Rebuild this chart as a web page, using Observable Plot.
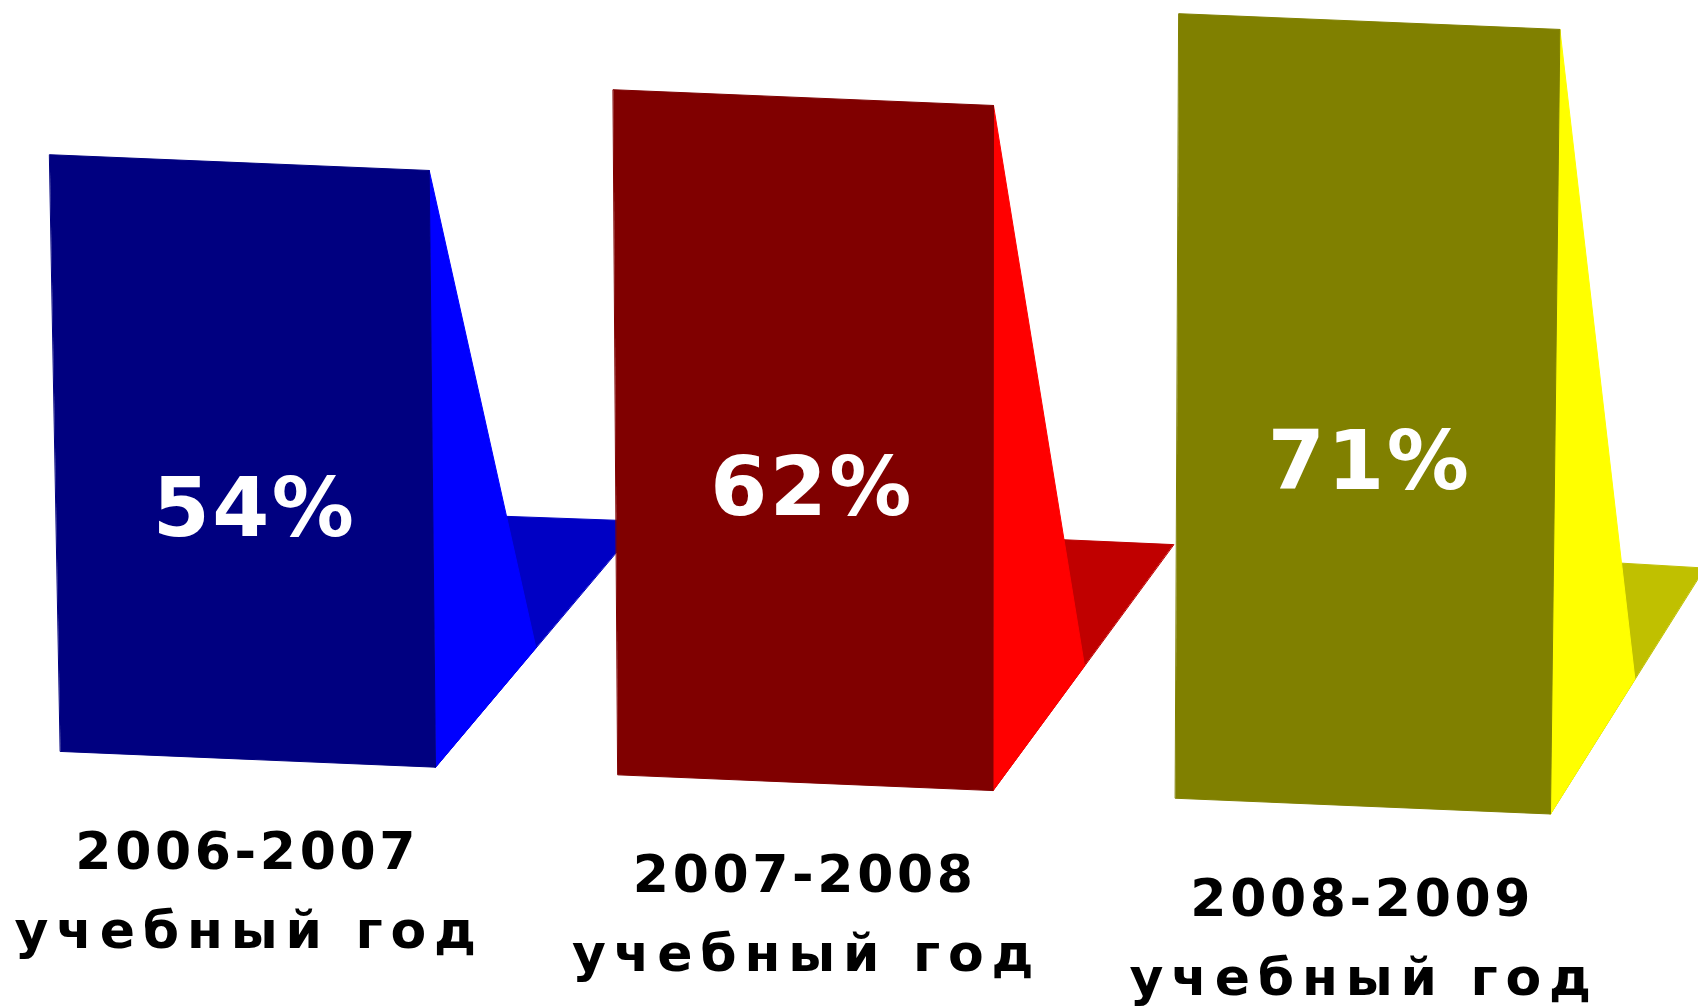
<!DOCTYPE html>
<html>
<head>
<meta charset="utf-8">
<script src="https://cdn.jsdelivr.net/npm/d3@7"></script>
<script src="https://cdn.jsdelivr.net/npm/@observablehq/plot@0.6"></script>
<style>
  html, body { margin: 0; padding: 0; background: #ffffff; overflow: hidden; }
</style>
</head>
<body>
<div id="chart"></div>
<script>
// ---- data ----
const years = ["2006-2007", "2007-2008", "2008-2009"];
const yearSuffix = ["учебный год", "учебный год", "учебный год"];
const values = [54, 62, 71];
const valueLabels = ["54%", "62%", "71%"];

// ---- styles ----
const frontColors = ["#000080", "#800000", "#808000"];
const sideColors  = ["#0000ff", "#ff0000", "#ffff00"];
const floorColors = ["#0000c4", "#c00000", "#c0c000"];
const fontFamily = "'DejaVu Sans', Verdana, sans-serif";

// ---- scene geometry (in scale units: x = category index, y = percent) ----
const W = 1698, H = 1007;
const xDomain = [-0.44395, 2.60179];
const yDomain = [-22.46, 68.67];
const halfWidth = 0.3363;      // half bar width, category units
const tilt = 2.118;            // baseline drops this many % per category unit
const vanishX = 1.27;          // perspective: verticals converge below this x
const lean = 0.0002232;        // lean strength
const depthLeft  = {dx: 0.1274, dy: 22.7};   // floor back-left from front-bottom-right
const depthRight = {dx: 0.3713, dy: 22.26, dxStep: -0.0475}; // floor back-right

function intersect(a1, a2, b1, b2) {
  const d1x = a2[0] - a1[0], d1y = a2[1] - a1[1];
  const d2x = b2[0] - b1[0], d2y = b2[1] - b1[1];
  const den = d1x * d2y - d1y * d2x;
  const t = ((b1[0] - a1[0]) * d2y - (b1[1] - a1[1]) * d2x) / den;
  return [a1[0] + t * d1x, a1[1] + t * d1y];
}

const polygons = [];
values.forEach((v, i) => {
  const x0 = i - halfWidth, x1 = i + halfWidth;
  const FBL = [x0, -tilt * x0];
  const FBR = [x1, -tilt * x1];
  const FTL = [x0 + (x0 - vanishX) * v * lean, v - tilt * x0];
  const FTR = [x1 + (x1 - vanishX) * v * lean, v - tilt * x1];
  const BL = [FBR[0] + depthLeft.dx, FBR[1] + depthLeft.dy];
  const BR = [FBR[0] + depthRight.dx + depthRight.dxStep * i, FBR[1] + depthRight.dy];
  const P = intersect(FTR, BL, FBR, BR);
  polygons.push({pts: [FBR, BL, BR], color: floorColors[i]});
  polygons.push({pts: [FTR, P, FBR], color: sideColors[i]});
  polygons.push({pts: [FTL, FTR, FBR, FBL], color: frontColors[i]});
});

const marks = polygons.map(p =>
  Plot.line(p.pts.map(([x, y]) => ({x, y})), {
    x: "x", y: "y", curve: "linear-closed",
    fill: p.color, stroke: p.color, strokeWidth: 1
  })
);

const idx = values.map((v, i) => i);

marks.push(Plot.text(idx, {
  x: i => i + 0.01, y: i => values[i] / 2 - 6.8 - tilt * i,
  text: i => valueLabels[i], lineAnchor: "bottom",
  fill: "#ffffff", fontSize: 82, fontWeight: "bold", fontFamily, dx: 1
}));
marks.push(Plot.text(idx, {
  x: i => i - 0.005, y: i => -9.91 - tilt * i,
  text: i => years[i], lineAnchor: "bottom",
  fill: "#000000", fontSize: 52, fontWeight: "bold", fontFamily, dx: 2
}));
marks.push(Plot.text(idx, {
  x: i => i - 0.005, y: i => -17.05 - tilt * i,
  text: i => yearSuffix[i], lineAnchor: "bottom",
  fill: "#000000", fontSize: 52, fontWeight: "bold", fontFamily, dx: 4
}));

const svg = Plot.plot({
  width: W, height: H,
  marginLeft: 0, marginRight: 0, marginTop: 0, marginBottom: 0,
  x: {type: "linear", domain: xDomain, axis: null},
  y: {type: "linear", domain: yDomain, axis: null},
  style: {background: "#ffffff", overflow: "hidden"},
  marks
});
const textGroups = d3.select(svg).selectAll('g[aria-label="text"]').nodes();
const spacing = ["0.03em", "0.07em", "0.15em"];
textGroups.forEach((g, k) => g.setAttribute("letter-spacing", spacing[k] || "0.05em"));
document.getElementById("chart").appendChild(svg);
</script>
</body>
</html>
